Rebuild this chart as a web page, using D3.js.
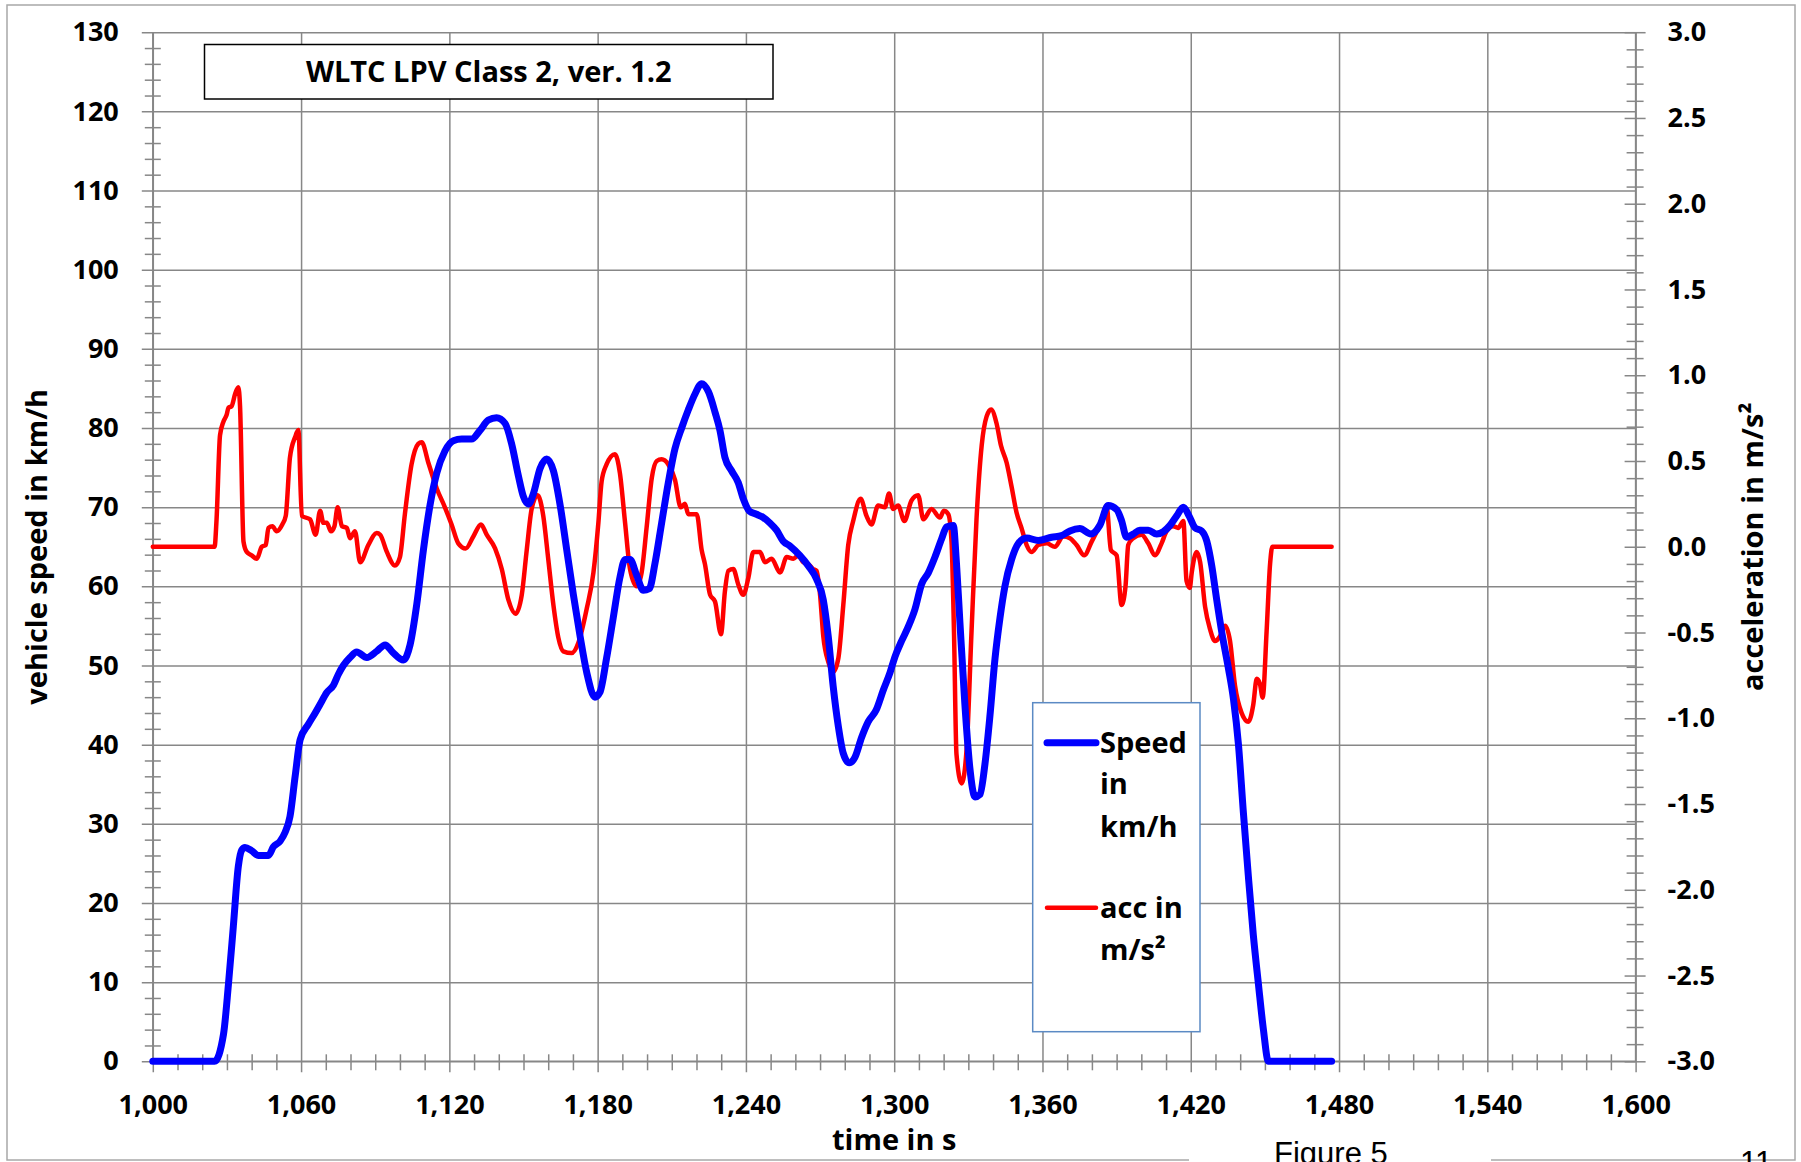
<!DOCTYPE html>
<html>
<head>
<meta charset="utf-8">
<script src="https://d3js.org/d3.v7.min.js"></script>
<style>
body { margin: 0; background: #fff; }
text { font-family: "Open Sans", "Liberation Sans", sans-serif; font-weight: bold; fill: #000; }
.grid line { stroke: #878787; stroke-width: 1.5; }
.grid .domain { display: none; }
.ticklab .domain { display: none; }
.ticklab text { font-size: 27px; }
.line { fill: none; stroke-linejoin: round; stroke-linecap: round; }
</style>
</head>
<body>
<div id="chart"></div>
<script>
// WLTC LPV Class 2
var speedT = [1000,1025,1028.6,1030.6,1032.6,1034.6,1036,1037.3,1040,1042.7,1046.8,1048.8,1051.5,1053.5,1055.5,1057.6,1059.6,1063,1065.7,1067.7,1070.4,1073.1,1075.1,1077.1,1079.8,1082.5,1086.6,1090.6,1094,1097,1101.4,1104.1,1106.8,1109.5,1112.2,1114.9,1118.2,1121.6,1125,1129,1132.4,1135.8,1139.1,1142.5,1145.2,1147.9,1149.9,1152,1154,1156.7,1159.4,1162.1,1164.8,1167.5,1170.2,1172.9,1175.6,1178.9,1180.9,1183.6,1186.3,1189,1191.1,1193.1,1195.8,1198.5,1200.9,1203.2,1205.9,1208.6,1211.3,1214,1216.7,1219.4,1222.1,1224.8,1227.5,1229.5,1231.5,1234.2,1236.9,1238.9,1241.4,1244.3,1247,1249.7,1252.4,1255.1,1257.8,1261.8,1265.2,1268.6,1271.3,1273.3,1275.3,1277.4,1279.4,1281.8,1284.1,1286.8,1289.5,1292.6,1295.6,1298.3,1300.3,1303,1305.7,1308.4,1311.1,1313.8,1316.5,1319.2,1321.2,1323.9,1325.2,1326.6,1328.6,1330.6,1332.7,1334.7,1336.7,1338.7,1340.8,1342.8,1344.8,1347.5,1350.2,1353.6,1358.3,1363.7,1367.7,1371.1,1375.1,1379.6,1383.2,1386.6,1390,1392,1394,1396.7,1399.4,1402.8,1406.2,1408.9,1411.6,1414.3,1417,1419.3,1421.7,1424.4,1426.5,1428.5,1430.5,1432.5,1435.2,1437.3,1439.3,1441.3,1443.3,1445.3,1447.4,1449.4,1451.4,1477];
var speedV = [0,0,3.4,9.7,17.1,24.6,26.7,27.0,26.6,26.0,26.0,27.1,27.8,28.9,30.9,36,40.6,42.6,44,45.1,46.6,47.5,48.9,50,51,51.7,51,51.8,52.6,51.7,50.7,52.6,57.7,64.6,70.3,74.3,77.1,78.4,78.6,78.6,79.7,81.0,81.3,80.6,78,74,71.4,70.4,71.7,74.9,76.1,74.6,70.3,64.6,58.9,53.7,49.1,46.0,46.6,50.9,56,61.1,63.4,63.4,61.4,59.5,59.7,62.9,68,73.1,77.4,80,82.3,84.3,85.6,84.6,82,79.7,76.3,74.6,73.1,71.1,69.5,69.1,68.7,68,67.1,65.7,65.1,63.9,62.6,60.9,58.3,53.7,47.4,42.3,38.9,37.7,38.4,40.9,42.9,44.3,46.9,49.1,51.1,53.1,54.9,57.1,60.3,61.7,63.7,66,67.5,67.7,62.9,55.4,45.1,37.1,33.4,33.7,37.5,43.5,50.9,56,60,63.4,65.4,66.1,65.8,66.2,66.4,67,67.3,66.6,67.7,70.2,69.7,68.3,66.2,66.6,67.1,67.1,66.6,66.9,67.7,68.9,70,68.9,67.4,67,65.7,62.6,58.3,54.3,49.7,45.7,40,31.4,23.4,16,9.7,4,0,0];

var accT = [1000,1025,1025.8,1027.2,1028.6,1029.9,1030.6,1031.9,1033.3,1034.6,1035.3,1036.7,1038,1040,1042.1,1044.1,1045.7,1046.8,1048.4,1050.1,1052.4,1053.8,1055.5,1057.6,1058.9,1060.3,1063.6,1065.9,1067.7,1069,1070.4,1072.1,1073.5,1074.8,1076.5,1078.5,1079.8,1081.8,1083.9,1087.2,1090.6,1092,1094.7,1098,1100,1102,1104.7,1107.4,1108.8,1111.5,1114.9,1118.2,1120.9,1123.6,1126.6,1129.7,1132.8,1135.1,1138.5,1141.2,1143.9,1146.8,1149.3,1151.3,1153.3,1155.7,1158,1160,1162.1,1164.1,1166.1,1169.5,1172.2,1175.6,1178.3,1180.3,1181.6,1183.6,1187,1189,1191.1,1193.1,1195.8,1197.8,1199.8,1201.9,1203.9,1205.9,1208.6,1211.3,1213.6,1215.3,1216.7,1220.1,1222.1,1223.4,1225.5,1227.5,1229.9,1231.5,1232.9,1234.9,1236.9,1238.9,1241,1243,1245.7,1247.7,1250.4,1253.8,1256.5,1259.2,1261.2,1263.2,1265.2,1267.2,1268.6,1270,1271.3,1273.3,1275.3,1277.4,1279.4,1281.4,1283.4,1286.4,1288.8,1290.8,1293.5,1296.2,1297.9,1299.6,1301.6,1304.1,1307,1309.7,1311.8,1315.1,1318.5,1320.1,1321.9,1323.2,1324.2,1325.2,1327.3,1329.3,1331.3,1333.3,1335.4,1337.4,1339.2,1341.4,1343.2,1345.5,1347.5,1349.5,1351.5,1353.6,1355.6,1358.3,1361.7,1365,1368.4,1371.1,1373.8,1376.9,1379.9,1382.6,1384.6,1385.9,1387.7,1390,1392,1393.6,1394.7,1396.7,1400.1,1402.8,1405.5,1408.2,1410.2,1412.9,1414.9,1417,1418.3,1419.6,1420.4,1422.4,1423.8,1425.8,1427.8,1429.8,1431.9,1433.9,1435.9,1437.9,1440.6,1443.3,1445.3,1446.7,1448,1449.1,1450.7,1452.1,1453,1477];
var accV = [0,0,0.16,0.65,0.73,0.77,0.81,0.82,0.89,0.93,0.82,0.03,-0.03,-0.05,-0.07,0.0,0.01,0.11,0.12,0.09,0.13,0.18,0.52,0.64,0.68,0.18,0.16,0.07,0.21,0.14,0.14,0.09,0.12,0.23,0.12,0.11,0.05,0.09,-0.09,0.01,0.08,0.07,-0.03,-0.11,-0.06,0.19,0.48,0.60,0.61,0.49,0.34,0.23,0.13,0.02,-0.01,0.06,0.13,0.07,-0.01,-0.13,-0.31,-0.39,-0.28,-0.02,0.22,0.30,0.18,-0.07,-0.34,-0.53,-0.61,-0.62,-0.56,-0.36,-0.15,0.14,0.38,0.48,0.54,0.43,0.14,-0.13,-0.23,-0.15,0.11,0.40,0.50,0.51,0.48,0.39,0.23,0.25,0.19,0.19,-0.02,-0.10,-0.28,-0.32,-0.51,-0.26,-0.14,-0.13,-0.22,-0.28,-0.18,-0.03,-0.03,-0.09,-0.07,-0.15,-0.06,-0.07,-0.05,-0.09,-0.10,-0.13,-0.14,-0.28,-0.52,-0.67,-0.73,-0.65,-0.34,0.01,0.15,0.28,0.18,0.13,0.24,0.23,0.31,0.22,0.24,0.15,0.27,0.30,0.16,0.22,0.17,0.21,0.19,0.03,-0.50,-1.21,-1.38,-1.18,-0.49,0.16,0.59,0.76,0.80,0.72,0.59,0.49,0.35,0.20,0.11,0.01,-0.03,0.01,0.02,0.00,0.06,0.05,0.01,-0.05,0.03,0.11,0.19,0.24,-0.02,-0.05,-0.34,-0.23,0.01,0.05,0.07,0.02,-0.05,0.02,0.09,0.12,0.11,0.15,-0.20,-0.24,-0.15,-0.03,-0.09,-0.35,-0.48,-0.55,-0.52,-0.46,-0.55,-0.81,-0.97,-1.02,-0.92,-0.77,-0.80,-0.88,-0.49,-0.10,0,0];

var timeTicks = d3.range(1000, 1601, 60);
var speedTicks = d3.range(0, 131, 10);
var accTicks = d3.range(-3, 3.01, 0.5);

var W = 1801, H = 1162;
var x0 = 152.8, x1 = 1635.6, yTop = 32.2, yBot = 1061.3;

var svg = d3.select("#chart").append("svg")
    .attr("width", W)
    .attr("height", H);

// page frame
svg.append("rect")
    .attr("x", 7).attr("y", 5)
    .attr("width", 1788).attr("height", 1155)
    .attr("fill", "#fff")
    .attr("stroke", "#a8a8a8")
    .attr("stroke-width", 1.5);

var xScale = d3.scaleLinear().domain([1000, 1600]).range([x0, x1]);
var ySpeed = d3.scaleLinear().domain([0, 130]).range([yBot, yTop]);
var yAcc = d3.scaleLinear().domain([-3, 3]).range([yBot, yTop]);

var pw = x1 - x0, ph = yBot - yTop;

// horizontal grid + major ticks on the left
var gy = svg.append("g").attr("class", "grid")
    .attr("transform", "translate(" + x0 + ",0)")
    .call(d3.axisLeft(ySpeed).tickValues(speedTicks).tickFormat(""));
gy.selectAll(".tick line").attr("x1", -11).attr("x2", pw);

// minor left ticks every 2 km/h
var gym = svg.append("g").attr("class", "grid")
    .attr("transform", "translate(" + x0 + ",0)")
    .call(d3.axisLeft(ySpeed).tickValues(d3.range(0, 130, 2).filter(function(d) { return d % 10; })).tickFormat(""));
gym.selectAll(".tick line").attr("x1", -8).attr("x2", 8);

// vertical grid + major ticks below
var gx = svg.append("g").attr("class", "grid")
    .attr("transform", "translate(0," + yBot + ")")
    .call(d3.axisBottom(xScale).tickValues(timeTicks).tickFormat(""));
gx.selectAll(".tick line").attr("y1", -ph).attr("y2", 11);

// minor time ticks every 10 s
var gxm = svg.append("g").attr("class", "grid")
    .attr("transform", "translate(0," + yBot + ")")
    .call(d3.axisBottom(xScale).tickValues(d3.range(1000, 1600, 10).filter(function(d) { return (d - 1000) % 60; })).tickFormat(""));
gxm.selectAll(".tick line").attr("y1", -7).attr("y2", 9);

// right axis ticks
var gr = svg.append("g").attr("class", "grid")
    .attr("transform", "translate(" + x1 + ",0)")
    .call(d3.axisRight(yAcc).tickValues(d3.range(-30, 31, 1).map(function(d) { return d / 10; })).tickFormat(""));
gr.selectAll(".tick line")
    .attr("x1", function(d) { return Math.round(d * 10) % 5 === 0 ? -11 : -9; })
    .attr("x2", function(d) { return Math.round(d * 10) % 5 === 0 ? 10 : 8; });

// axis lines
var axLines = svg.append("g").attr("stroke", "#878787").attr("stroke-width", 1.5);
axLines.append("line").attr("x1", x0).attr("x2", x0).attr("y1", yTop).attr("y2", yBot);
axLines.append("line").attr("x1", x1).attr("x2", x1).attr("y1", yTop).attr("y2", yBot);
axLines.append("line").attr("x1", x0).attr("x2", x1).attr("y1", yBot).attr("y2", yBot);

// tick labels
svg.append("g").attr("class", "ticklab")
    .attr("transform", "translate(" + x0 + ",0)")
    .call(d3.axisLeft(ySpeed).tickValues(speedTicks).tickSize(0).tickPadding(34));

svg.append("g").attr("class", "ticklab")
    .attr("transform", "translate(" + x1 + ",0)")
    .call(d3.axisRight(yAcc).tickValues(accTicks).tickSize(0).tickPadding(32)
      .tickFormat(function(d) { return d.toFixed(1); }));

svg.append("g").attr("class", "ticklab")
    .attr("transform", "translate(0," + yBot + ")")
    .call(d3.axisBottom(xScale).tickValues(timeTicks).tickSize(0).tickPadding(34)
      .tickFormat(d3.format(",")));

// series
var speedData = speedT.map(function(t, i) { return [t, speedV[i]]; });
var accData = accT.map(function(t, i) { return [t, accV[i]]; });

svg.append("path")
    .datum(accData)
    .attr("class", "line")
    .attr("stroke", "#ff0000")
    .attr("stroke-width", 4.5)
    .attr("d", d3.line()
      .curve(d3.curveMonotoneX)
      .x(function(d) { return xScale(d[0]); })
      .y(function(d) { return yAcc(d[1]); }));

svg.append("path")
    .datum(speedData)
    .attr("class", "line")
    .attr("stroke", "#0000ff")
    .attr("stroke-width", 7)
    .attr("d", d3.line()
      .curve(d3.curveMonotoneX)
      .x(function(d) { return xScale(d[0]); })
      .y(function(d) { return ySpeed(d[1]); }));

// title box
svg.append("rect")
    .attr("x", 204.5).attr("y", 44.5)
    .attr("width", 568.5).attr("height", 54.5)
    .attr("fill", "#fff")
    .attr("stroke", "#000")
    .attr("stroke-width", 1.5);
svg.append("text")
    .attr("x", 488.8).attr("y", 82)
    .attr("text-anchor", "middle")
    .style("font-size", "29px")
    .text("WLTC LPV Class 2, ver. 1.2");

// axis titles
svg.append("text")
    .attr("transform", "translate(47," + ((yTop + yBot) / 2) + ") rotate(-90)")
    .attr("text-anchor", "middle")
    .style("font-size", "29px")
    .text("vehicle speed in km/h");

svg.append("text")
    .attr("transform", "translate(1763," + ((yTop + yBot) / 2) + ") rotate(-90)")
    .attr("text-anchor", "middle")
    .style("font-size", "29px")
    .text("acceleration in m/s²");

svg.append("text")
    .attr("x", (x0 + x1) / 2).attr("y", 1150)
    .attr("text-anchor", "middle")
    .style("font-size", "29px")
    .text("time in s");

// legend
var leg = svg.append("g");
leg.append("rect")
    .attr("x", 1032.7).attr("y", 702.7)
    .attr("width", 167.3).attr("height", 329)
    .attr("fill", "#fff")
    .attr("stroke", "#5b8ac4")
    .attr("stroke-width", 1.5);
leg.append("line")
    .attr("x1", 1047).attr("x2", 1096).attr("y1", 742.7).attr("y2", 742.7)
    .attr("stroke", "#0000ff").attr("stroke-width", 7).attr("stroke-linecap", "round");
leg.append("line")
    .attr("x1", 1047).attr("x2", 1096).attr("y1", 907.7).attr("y2", 907.7)
    .attr("stroke", "#ff0000").attr("stroke-width", 4.5).attr("stroke-linecap", "round");
var legLines = [["Speed", 752.7], ["in", 794], ["km/h", 836.5], ["acc in", 917.7], ["m/s²", 959.5]];
leg.selectAll("text.leg")
    .data(legLines)
    .enter().append("text")
    .attr("class", "leg")
    .attr("x", 1100)
    .attr("y", function(d) { return d[1]; })
    .style("font-size", "29px")
    .text(function(d) { return d[0]; });

// page caption below the chart
svg.append("rect")
    .attr("x", 1189).attr("y", 1128)
    .attr("width", 302).attr("height", 34)
    .attr("fill", "#fff");
svg.append("text")
    .attr("x", 1274).attr("y", 1164)
    .style("font-family", "'Liberation Sans', Arial, sans-serif")
    .style("font-weight", "normal")
    .style("font-size", "31px")
    .attr("fill", "#222")
    .text("Figure 5");
svg.append("text")
    .attr("x", 1740).attr("y", 1173)
    .style("font-family", "'Liberation Sans', Arial, sans-serif")
    .style("font-weight", "normal")
    .style("font-size", "31px")
    .attr("fill", "#222")
    .text("11");
</script>
</body>
</html>
